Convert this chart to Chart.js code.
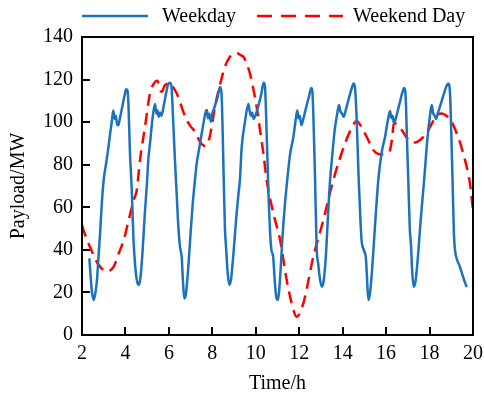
<!DOCTYPE html>
<html>
<head>
<meta charset="utf-8">
<script src="https://cdn.jsdelivr.net/npm/chart.js@4/dist/chart.umd.min.js"></script>
<style>
html,body{margin:0;padding:0;background:#fff;}
#c{display:block;}
</style>
</head>
<body>
<canvas id="c" width="484" height="394"></canvas>
<script>
// ---- data ----
const seriesNames = ['Weekday', 'Weekend Day'];
const xTicks = [2, 4, 6, 8, 10, 12, 14, 16, 18, 20];
const yTicks = [0, 20, 40, 60, 80, 100, 120, 140];

const weekdayTime = [
  2.34,2.40,2.46,2.54,2.62,2.69,2.78,2.84,2.92,3.00,3.10,3.20,3.30,3.38,3.44,3.50,3.55,3.62,3.67,3.75,3.85,3.95,4.03,4.09,4.14,4.20,4.29,4.37,4.44,4.52,4.60,4.68,4.78,4.88,4.96,
  5.00,5.05,5.13,5.25,5.36,5.43,5.48,5.53,5.60,5.66,5.75,5.88,5.97,6.05,6.12,6.20,6.28,6.36,6.44,6.51,6.59,6.65,6.71,6.78,6.88,7.00,7.10,7.20,7.28,
  7.40,7.55,7.70,7.75,7.80,7.86,7.93,8.00,8.10,8.25,8.35,8.42,8.47,8.52,8.58,8.63,8.70,8.78,8.86,8.97,9.10,9.20,9.27,9.35,
  9.50,9.66,9.72,9.78,9.83,9.90,9.98,10.10,10.25,10.36,10.42,10.50,10.58,10.66,10.72,10.80,10.87,10.94,11.00,11.06,11.14,11.22,11.33,11.45,11.58,11.73,
  11.85,11.91,11.97,12.02,12.10,12.20,12.32,12.45,12.55,12.60,12.66,12.73,12.80,12.88,12.96,13.04,13.12,13.22,13.32,13.42,13.50,13.63,
  13.75,13.83,13.90,13.97,14.05,14.15,14.28,14.42,14.50,14.57,14.65,14.73,14.80,14.87,14.97,15.07,15.12,15.18,15.25,15.35,15.48,15.64,
  15.80,15.95,16.10,16.18,16.24,16.30,16.36,16.45,16.60,16.75,16.83,16.90,16.96,17.02,17.09,17.15,17.20,17.27,17.35,17.45,17.60,17.75,17.90,
  18.02,18.10,18.17,18.24,18.30,18.38,18.50,18.65,18.78,18.86,18.94,19.00,19.07,19.12,19.17,19.28,19.40,19.52,19.62,19.71
];
const weekdayLoad = [
  36,27,20,16.5,20,26,40,49,63,73,80,87,95,101,105.5,101.5,103,99,98.5,102,107,112,115.5,115,108,88,68,45,33.5,26,23.5,26,38,55,67,
  73,82,90,102,108.5,104,105.5,102.5,104.5,103,107,114,118,118.5,116.5,100,82,66,50,41.5,36.5,25,17.2,19,30,48,62,72.8,80.5,
  88,97,105,105.7,101.8,104,100.2,104,107,112,116.5,114,98,75,50,41.5,30,23.5,26,38,55,66,73,88,
  100,108.5,105,103,104.5,101.5,103,107,113,118.5,117,95,68,48,40,36.8,26,18,16.5,19,30,44.6,60,73,85,93,
  102,105.5,101.8,103,98.6,102,107,112,116,115,100,73,41.5,33,26,22.7,25,36,55,72.8,82,96,
  104,108,105,104,102.5,106,111,116,118.2,116,100,75,58,44.6,40,36,27,16.5,19,30,50,72.8,
  86,93,102,105.2,102,103,99.5,102,108,114,116,112,92,72.8,50,41.5,30,22.7,25,35,55,72.8,92,
  103,108,104,103,101.5,104,108,113,117,118.2,114,95,68,48,40,35,32,28,25,22.5
];

const weekendTime = [
  2.00,2.12,2.30,2.45,2.61,2.84,3.00,3.15,3.46,3.69,3.92,4.15,4.38,4.52,4.67,4.90,5.13,5.30,5.47,5.60,5.67,5.82,6.05,6.25,6.43,6.66,6.82,7.00,7.20,7.43,7.66,7.82,7.97,8.12,8.35,8.58,8.81,9.00,9.12,9.30,9.43,9.60,9.73,9.90,10.04,10.20,10.35,10.50,10.81,11.12,11.42,11.65,11.88,12.19,12.65,13.11,13.57,14.11,14.40,14.65,14.90,15.11,15.41,15.65,15.87,16.05,16.18,16.27,16.35,16.41,16.55,16.72,16.90,17.10,17.33,17.56,17.75,17.94,18.20,18.40,18.56,18.79,19.02,19.25,19.40,19.55,19.78,19.86,20.00
];
const weekendLoad = [
  51.7,47.8,43,39.5,35.5,32,30.5,29.8,32.1,38.3,44.6,54,63.4,68,82.2,97.8,113.5,118,119.4,115,114.3,117.4,118.2,115.5,111.9,105,101,98,95.5,90.8,88.8,90.8,97.8,107.2,117.4,126,130.7,132.3,132.5,131.5,130.7,127,122.9,115,107.2,96,85.3,72.8,57.2,44.6,26,15,8.6,14.9,36.8,54,72.8,90,97,100.5,97,93,86.9,85,84.8,85.5,86.9,92,99,99.4,98.5,96.3,93.5,90.8,90.4,91.6,93.5,96.3,101,103.8,104.1,102.9,100.2,94.7,90.5,85.3,75.9,71.2,58.7
];

const BLUE = '#1c72bd';
const RED = '#ff0000';
const FONT = "'Liberation Serif', 'Times New Roman', serif";

Chart.defaults.font.family = FONT;
Chart.defaults.font.size = 20;
Chart.defaults.color = '#000';

const toPoints = (xs, ys) => xs.map((x, i) => ({x: x, y: ys[i]}));

const frameAndLegend = {
  id: 'frameAndLegend',
  afterDatasetsDraw(chart) {
    const {ctx, chartArea: a} = chart;
    ctx.save();
    ctx.strokeStyle = '#000';
    ctx.lineWidth = 2;
    ctx.setLineDash([]);
    ctx.strokeRect(a.left, a.top, a.right - a.left, a.bottom - a.top);
    ctx.restore();
  },
  afterDraw(chart) {
    const {ctx, chartArea: a} = chart;
    const ds = chart.data.datasets;
    const y = 16;
    ctx.save();
    ctx.font = '20px ' + FONT;
    ctx.textBaseline = 'middle';
    ctx.textAlign = 'left';
    ctx.fillStyle = '#000';
    let x = a.left;
    ctx.strokeStyle = ds[0].borderColor;
    ctx.lineWidth = 2.5;
    ctx.setLineDash([]);
    ctx.beginPath(); ctx.moveTo(x, y); ctx.lineTo(x + 66, y); ctx.stroke();
    ctx.fillText(ds[0].label, x + 80, y + 1);
    x = a.left + 175;
    ctx.strokeStyle = ds[1].borderColor;
    ctx.setLineDash([15, 9]);
    ctx.beginPath(); ctx.moveTo(x, y); ctx.lineTo(x + 86, y); ctx.stroke();
    ctx.setLineDash([]);
    ctx.fillText(ds[1].label, x + 96, y + 1);
    ctx.restore();
  }
};

new Chart(document.getElementById('c'), {
  type: 'line',
  data: {
    datasets: [
      {
        label: seriesNames[0],
        data: toPoints(weekdayTime, weekdayLoad),
        borderColor: BLUE,
        borderWidth: 2.5,
        pointRadius: 0,
        fill: false,
        cubicInterpolationMode: 'monotone'
      },
      {
        label: seriesNames[1],
        data: toPoints(weekendTime, weekendLoad),
        borderColor: RED,
        borderWidth: 2.5,
        borderDash: [12, 7],
        pointRadius: 0,
        fill: false,
        cubicInterpolationMode: 'monotone'
      }
    ]
  },
  options: {
    responsive: false,
    animation: false,
    devicePixelRatio: 1,
    layout: { padding: { top: 37, right: 11, left: 0, bottom: 0 } },
    plugins: {
      legend: { display: false },
      tooltip: { enabled: false }
    },
    scales: {
      x: {
        type: 'linear',
        min: xTicks[0],
        max: xTicks[xTicks.length - 1],
        afterBuildTicks: s => { s.ticks = xTicks.map(v => ({value: v})); },
        afterFit: s => { s.height = 59; s.paddingLeft = 0; s.paddingRight = 0; },
        grid: { drawOnChartArea: false, drawTicks: true, tickLength: -8, color: '#000', lineWidth: 2 },
        border: { display: true, color: '#000', width: 2 },
        ticks: { color: '#000', font: { family: FONT, size: 20 }, padding: 15, maxRotation: 0, autoSkip: false },
        title: { display: true, text: 'Time/h', color: '#000', font: { family: FONT, size: 20 }, padding: { top: 0, bottom: -2 } }
      },
      y: {
        type: 'linear',
        min: yTicks[0],
        max: yTicks[yTicks.length - 1],
        afterBuildTicks: s => { s.ticks = yTicks.map(v => ({value: v})); },
        afterFit: s => { s.width = 82; s.paddingTop = 0; s.paddingBottom = 0; },
        grid: { drawOnChartArea: false, drawTicks: true, tickLength: -8, color: '#000', lineWidth: 2 },
        border: { display: true, color: '#000', width: 2 },
        ticks: { color: '#000', font: { family: FONT, size: 20 }, padding: 17, autoSkip: false },
        title: { display: true, text: 'Payload/MW', color: '#000', font: { family: FONT, size: 20 }, padding: { top: 7, bottom: 0 } }
      }
    }
  },
  plugins: [frameAndLegend]
});
</script>
</body>
</html>
